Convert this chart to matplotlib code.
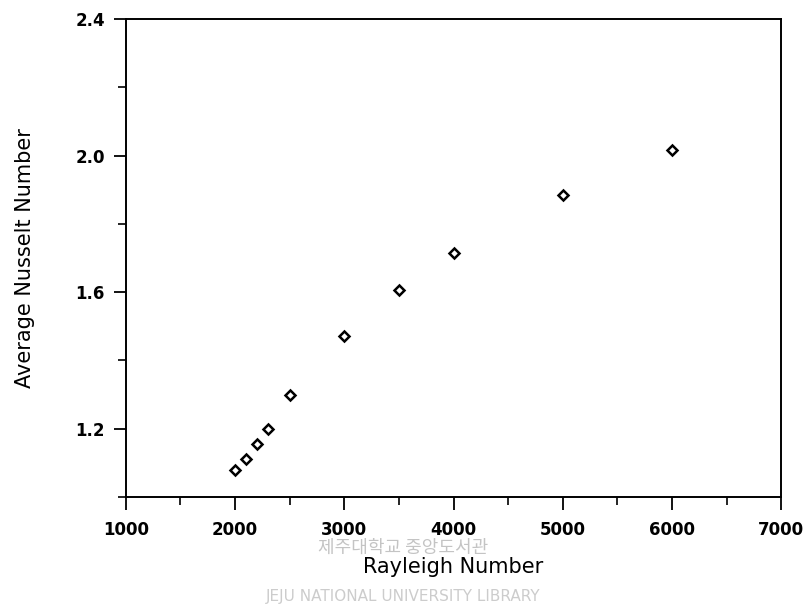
import matplotlib
matplotlib.use("Agg")
import matplotlib.pyplot as plt
from matplotlib.ticker import MultipleLocator

# Rayleigh number vs. average Nusselt number
rayleigh = [2000, 2100, 2200, 2300, 2500, 3000, 3500, 4000, 5000, 6000]
nusselt = [1.08, 1.112, 1.156, 1.20, 1.30, 1.472, 1.607, 1.716, 1.883, 2.015]

x_ticks = [1000, 2000, 3000, 4000, 5000, 6000, 7000]
y_ticks = [1.2, 1.6, 2.0, 2.4]

fig = plt.figure(figsize=(8.07, 6.11), dpi=100)
ax = fig.add_axes([0.156, 0.1866, 0.812, 0.7824])

ax.plot(rayleigh, nusselt, linestyle='none', marker='D', markersize=5,
        markerfacecolor='white', markeredgecolor='black', markeredgewidth=1.8)

ax.set_xlim(1000, 7000)
ax.set_ylim(1.0, 2.4)
ax.set_xticks(x_ticks)
ax.set_yticks(y_ticks)
ax.set_xticklabels([str(t) for t in x_ticks])
ax.set_yticklabels([f"{t:.1f}" for t in y_ticks])
ax.xaxis.set_minor_locator(MultipleLocator(500))
ax.yaxis.set_minor_locator(MultipleLocator(0.2))

ax.tick_params(which='major', direction='out', length=9, width=1.3,
               labelsize=12)
ax.tick_params(axis='x', which='major', pad=8)
ax.tick_params(axis='y', which='major', pad=6)
ax.tick_params(which='minor', direction='out', length=6, width=1.2)
for lab in ax.get_xticklabels() + ax.get_yticklabels():
    lab.set_fontweight('bold')
for sp in ax.spines.values():
    sp.set_linewidth(1.4)

ax.set_xlabel('Rayleigh Number', fontsize=15, labelpad=13)
ax.set_ylabel('Average Nusselt Number', fontsize=15, labelpad=29)

# library watermark (kept clear of the axis texts)
fig.text(0.50, 0.104, '제주대학교 중앙도서관', fontsize=13, color='#c4c4c4',
         family=['Noto Sans CJK KR', 'DejaVu Sans'], ha='center', va='center',
         zorder=0)
fig.text(0.50, 0.024, 'JEJU NATIONAL UNIVERSITY LIBRARY', fontsize=11,
         color='#cccccc', ha='center', va='center', zorder=0)

fig.savefig('out.png', dpi=100)
